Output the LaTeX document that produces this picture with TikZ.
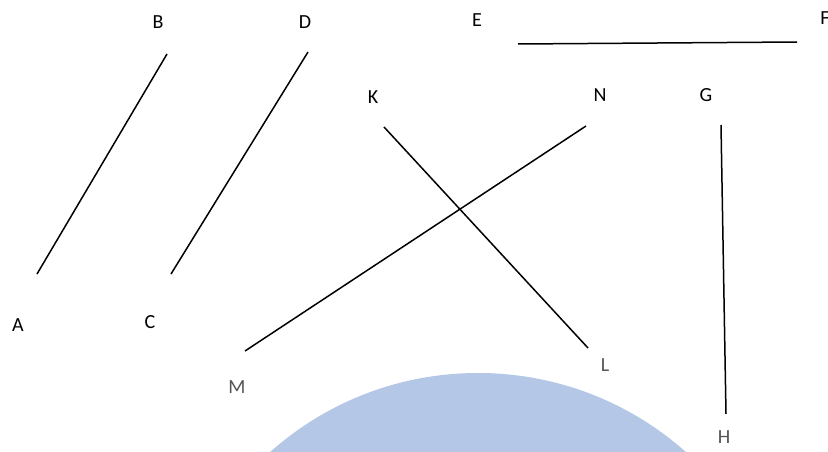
\documentclass[tikz,border=0pt]{standalone}
\usepackage{fontspec}
\setmainfont{Carlito}
\usepackage{xcolor}
\usepackage{tikz}
\usetikzlibrary{
positioning,
calc
}

\definecolor{discblue}{HTML}{B4C7E7}
\definecolor{labelgray}{HTML}{555555}

\begin{document}
\begin{tikzpicture}[
x=1pt,y=-1pt,
lbl/.style={
font=\fontsize{20}{22}\selectfont,
inner sep=0pt,
anchor=center
},
faint/.style={
lbl,
text=labelgray
},
segment/.style={line width=1.5pt,black}
]

\useasboundingbox (0,0) rectangle (828,452);
\fill[white] (0,0) rectangle (828,452);

% blue disc at the bottom
\begin{scope}
\clip (0,0) rectangle (828,452);
\fill[discblue] (478,686) circle[radius=313];
\end{scope}

% end points
\coordinate (a) at (37,274);
\coordinate (b) at (167,54);
\coordinate (c) at (171,274);
\coordinate (d) at (308,52);
\coordinate (e) at (518,44);
\coordinate (f) at (797,42);
\coordinate (k) at (384,127);
\coordinate (l) at (588,348);
\coordinate (m) at (245,351);
\coordinate (n) at (586,126);
\coordinate (g) at (721,125);
\coordinate (h) at (726,414);

% labels
\node[lbl] (labA) at (18,325) {A};
\node[lbl] (labB) at (158,22) {B};
\node[lbl] (labC) at (150,322) {C};
\node[lbl] (labD) at (305,22) {D};
\node[lbl] (labE) at (477,20) {E};
\node[lbl] (labF) at (825,18) {F};
\node[lbl] (labK) at (373,97) {K};
\node[lbl] (labN) at (600,95) {N};
\node[lbl] (labG) at (706,95) {G};
\node[faint] (labM) at (237,387) {M};
\node[faint] (labL) at (605,365) {L};
\node[faint] (labH) at (724,437) {H};

% segments
\draw[segment] (a) -- (b);
\draw[segment] (c) -- (d);
\draw[segment] (e) -- (f);
\draw[segment] (k) -- (l);
\draw[segment] (m) -- (n);
\draw[segment] (g) -- (h);

\end{tikzpicture}
\end{document}
